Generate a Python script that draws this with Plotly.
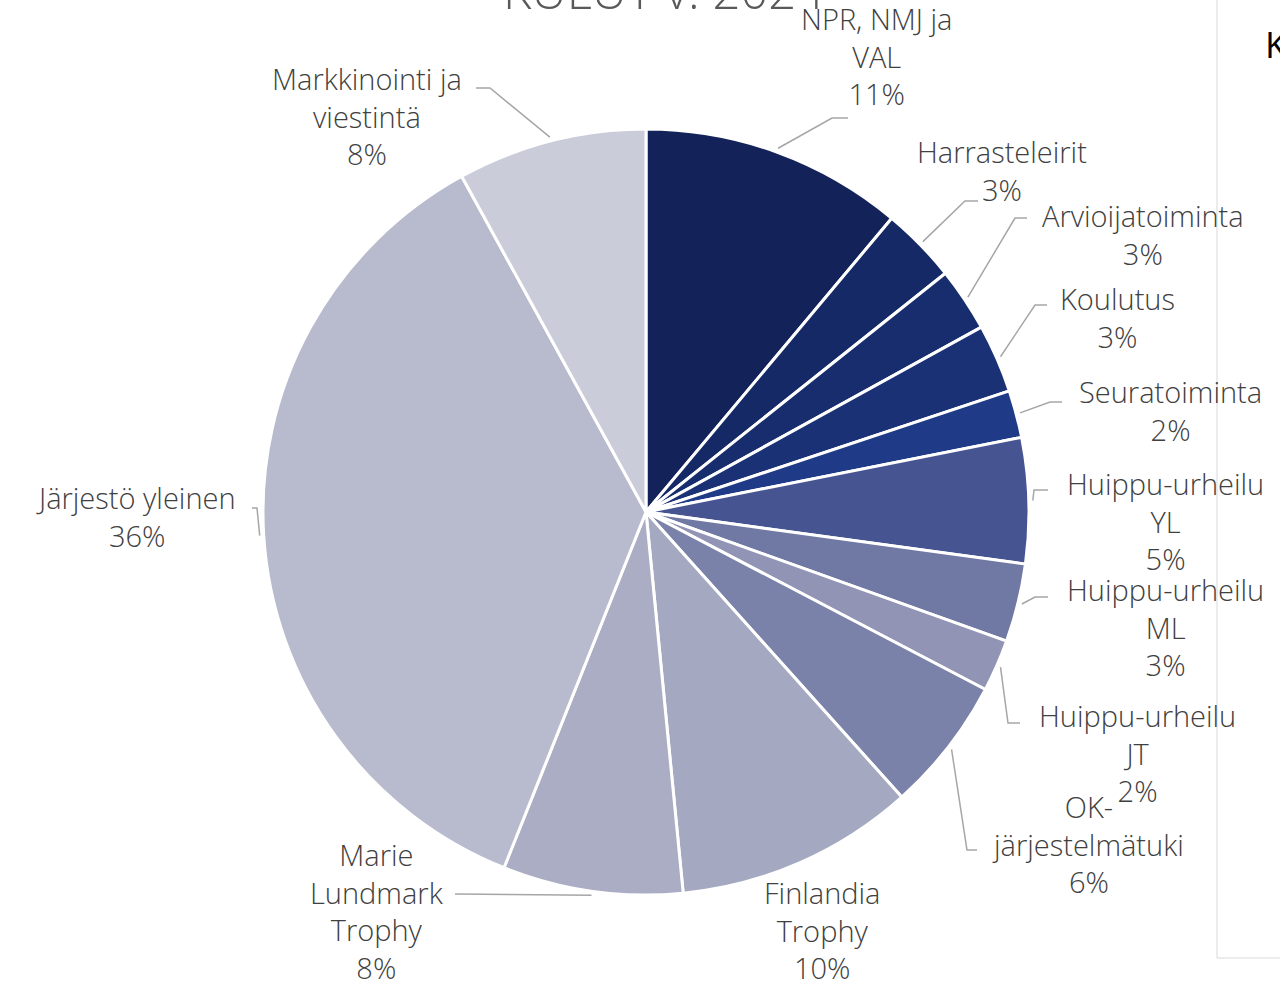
import math
import plotly.graph_objects as go

# ---------------- data ----------------
categories = [
    "NPR, NMJ ja VAL", "Harrasteleirit", "Arvioijatoiminta", "Koulutus", "Seuratoiminta",
    "Huippu-urheilu YL", "Huippu-urheilu ML", "Huippu-urheilu JT", "OK-järjestelmätuki",
    "Finlandia Trophy", "Marie Lundmark Trophy", "Järjestö yleinen", "Markkinointi ja viestintä",
]
label_lines = [
    ["NPR, NMJ ja", "VAL"], ["Harrasteleirit"], ["Arvioijatoiminta"], ["Koulutus"], ["Seuratoiminta"],
    ["Huippu-urheilu", "YL"], ["Huippu-urheilu", "ML"], ["Huippu-urheilu", "JT"], ["OK-", "järjestelmätuki"],
    ["Finlandia", "Trophy"], ["Marie", "Lundmark", "Trophy"], ["Järjestö yleinen"], ["Markkinointi ja", "viestintä"],
]
values = [11.1, 3.2, 2.7, 2.9, 2.0, 5.3, 3.3, 2.2, 5.7, 10.1, 7.6, 36.0, 8.0]
colors = [
    "#13235A", "#152966", "#182D6E", "#1A3176", "#1F3A86", "#465591", "#7078A4",
    "#9194B4", "#7B82AA", "#A4A8C0", "#AAADC3", "#B8BACD", "#CBCCD9",
]
title_text = "KULUT v. 2024"

# ---------------- layout (pixels) ----------------
W, H = 1280, 982
CX, CY, R = 646, 512, 383
LINE_H = 37.5

def px(x):
    return x / W

def py(y):
    return 1 - y / H

# label centre x and first-line centre y (pixels)
label_pos = [
    (876, 18), (1002, 152), (1143, 216), (1117, 299), (1170, 392),
    (1165, 483), (1165, 589), (1137, 715), (1088, 806),
    (822, 892), (377, 855), (136, 498), (367, 79),
]
# leader-line elbow / end points (pixels)
leader = [
    ((832, 118), (848, 118)),
    ((965, 201), (978, 201)),
    ((1015, 218), (1027, 218)),
    ((1035, 305), (1047, 305)),
    ((1050, 402), (1062, 402)),
    ((1034, 490), (1048, 490)),
    ((1035, 597), (1048, 597)),
    ((1008, 723), (1020, 723)),
    ((967, 850), (977, 850)),
    None,
    ((455, 894), (455, 894)),
    ((257, 508), (252, 508)),
    ((490, 88), (476, 88)),
]

FONT = "'Open Sans', Lato, sans-serif"
TXT = "#404040"

fig = go.Figure(
    go.Pie(
        labels=categories,
        values=values,
        sort=False,
        direction="clockwise",
        rotation=0,
        marker=dict(colors=colors, line=dict(color="white", width=3)),
        textinfo="none",
        hoverinfo="label+percent",
        domain=dict(x=[px(CX - R), px(CX + R)], y=[py(CY + R), py(CY - R)]),
        showlegend=False,
    )
)

total = sum(values)
annotations = []
shapes = []
cum = 0.0
for name, lines, v, pos, ld in zip(categories, label_lines, values, label_pos, leader):
    pct = round(v / total * 100)
    mid = (cum + v / 2) / total * 2 * math.pi
    cum += v
    all_lines = lines + [f"{pct}%"]
    yc = pos[1] + (len(all_lines) - 1) * LINE_H / 2
    annotations.append(dict(
        x=px(pos[0]), y=py(yc), xref="paper", yref="paper",
        xanchor="center", yanchor="middle", align="center",
        text="<br>".join(all_lines), showarrow=False,
        font=dict(family=FONT, size=29, color=TXT, weight=300),
    ))
    if ld is not None:
        sx = CX + (R + 4) * math.sin(mid)
        sy = CY - (R + 4) * math.cos(mid)
        (ex, ey), (fx, fy) = ld
        path = f"M {px(sx)},{py(sy)} L {px(ex)},{py(ey)} L {px(fx)},{py(fy)}"
        shapes.append(dict(type="path", path=path, xref="paper", yref="paper",
                           line=dict(color="#A6A6A6", width=1.5)))

# title, partially cut off at the top
annotations.append(dict(
    x=px(663), y=py(-10), xref="paper", yref="paper", xanchor="center", yanchor="middle",
    text=title_text, showarrow=False, font=dict(family=FONT, size=49, color="#595959", weight=300),
))
# neighbouring chart fragment on the right
annotations.append(dict(
    x=px(1263), y=py(44), xref="paper", yref="paper", xanchor="left", yanchor="middle",
    text="K", showarrow=False, font=dict(family=FONT, size=36, color="#000000"),
))
shapes.append(dict(type="line", xref="paper", yref="paper", x0=px(1217), x1=px(1217),
                   y0=py(0), y1=py(958), line=dict(color="#D9D9D9", width=1), layer="below"))
shapes.append(dict(type="line", xref="paper", yref="paper", x0=px(1217), x1=px(1280),
                   y0=py(958), y1=py(958), line=dict(color="#D9D9D9", width=1), layer="below"))

fig.update_layout(
    width=W, height=H,
    margin=dict(l=0, r=0, t=0, b=0),
    paper_bgcolor="white", plot_bgcolor="white",
    annotations=annotations, shapes=shapes,
)

fig.write_html(
    "out.html",
    config={"displayModeBar": False},
    post_script="document.body.style.margin='0';document.body.style.overflow='hidden';",
)
